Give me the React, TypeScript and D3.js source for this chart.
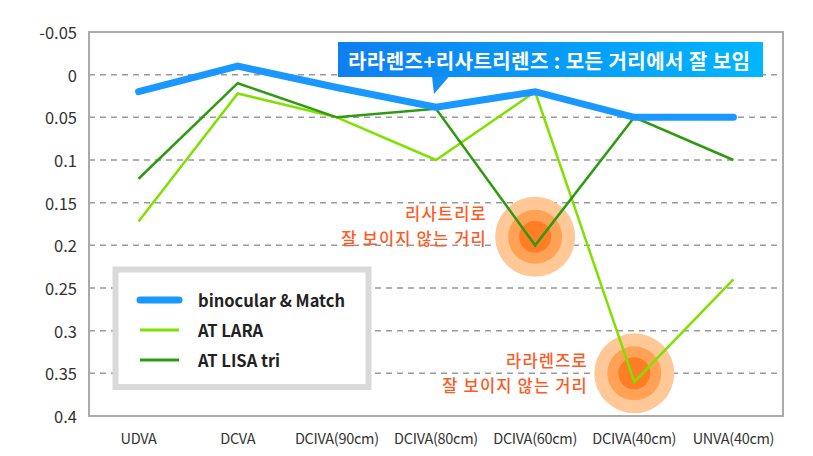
import React from "react";
import * as d3 from "d3";

const categories = ["UDVA", "DCVA", "DCIVA(90cm)", "DCIVA(80cm)", "DCIVA(60cm)", "DCIVA(40cm)", "UNVA(40cm)"];
const binocularMatch = [0.02, -0.01, 0.015, 0.038, 0.02, 0.05, 0.05];
const atLara = [0.172, 0.022, 0.05, 0.1, 0.02, 0.36, 0.24];
const atLisaTri = [0.122, 0.01, 0.05, 0.04, 0.2, 0.05, 0.1];
const yTicks = [-0.05, 0, 0.05, 0.1, 0.15, 0.2, 0.25, 0.3, 0.35, 0.4];
const yTickLabels = ["-0.05", "0", "0.05", "0.1", "0.15", "0.2", "0.25", "0.3", "0.35", "0.4"];
const seriesNames = ["binocular & Match", "AT LARA", "AT LISA tri"];
const calloutText = "라라렌즈+리사트리렌즈 : 모든 거리에서 잘 보임";
const note1 = ["리사트리로", "잘 보이지 않는 거리"];
const note2 = ["라라렌즈로", "잘 보이지 않는 거리"];
const note1Cat = "DCIVA(60cm)";
const note1Val = 0.19;
const note2Cat = "DCIVA(40cm)";
const note2Val = 0.35;

const W = 813;
const H = 456;
const M = { left: 89, right: 30, top: 32, bottom: 40 };
const FONT = "'Noto Sans CJK KR', 'Noto Sans', sans-serif";

export default function App() {
  const x = d3
    .scalePoint<string>()
    .domain(categories)
    .range([M.left, W - M.right])
    .padding(0.5);
  const y = d3.scaleLinear().domain([-0.05, 0.4]).range([M.top, H - M.bottom]);

  const line = d3
    .line<number>()
    .x((_, i) => x(categories[i]) as number)
    .y((d) => y(d));

  const colors = ["#1a98ff", "#80e000", "#2e9a12"];
  const widths = [7, 2.5, 2.5];
  const series = [binocularMatch, atLara, atLisaTri];

  const c1x = x(note1Cat) as number;
  const c1y = y(note1Val);
  const c2x = x(note2Cat) as number;
  const c2y = y(note2Val);

  const circles = (cx: number, cy: number, key: string) => (
    <g key={key}>
      <circle cx={cx} cy={cy} r={40} fill="#ffc896" />
      <circle cx={cx} cy={cy} r={27} fill="#ffa255" />
      <circle cx={cx} cy={cy} r={16} fill="#ff7d25" />
    </g>
  );

  const calloutX = 338;
  const calloutY = 42;
  const calloutW = 425;
  const calloutH = 35;

  const legX = 115.5;
  const legY = 269.5;
  const legRows = [300, 330, 360];

  return (
    <div style={{ position: "fixed", left: 0, top: 0 }}>
      <svg width={W} height={H} style={{ display: "block", background: "#fff" }} fontFamily={FONT}>
        <defs>
          <linearGradient id="cg" x1="0" x2="1" y1="0" y2="0">
            <stop offset="0" stopColor="#0f7ff0" />
            <stop offset="1" stopColor="#00b6ff" />
          </linearGradient>
        </defs>
        {/* grid */}
        {yTicks.slice(1, -1).map((t) => (
          <line
            key={t}
            x1={M.left}
            x2={W - M.right}
            y1={y(t)}
            y2={y(t)}
            stroke="#999"
            strokeWidth={1.5}
            strokeDasharray="6,5"
          />
        ))}
        {/* frame */}
        <rect
          x={M.left}
          y={M.top}
          width={W - M.right - M.left}
          height={H - M.bottom - M.top}
          fill="none"
          stroke="#aaa"
          strokeWidth={2}
        />
        {/* y labels */}
        {yTicks.map((t, i) => (
          <text
            key={t}
            x={77}
            y={y(t)}
            textAnchor="end"
            dominantBaseline="central"
            fontSize={16.5}
            fill="#333"
          >
            {yTickLabels[i]}
          </text>
        ))}
        {/* x labels */}
        {categories.map((c) => (
          <text
            key={c}
            x={x(c) as number}
            y={437}
            textAnchor="middle"
            dominantBaseline="central"
            fontSize={14.5}
            letterSpacing={-0.3}
            fill="#333"
          >
            {c}
          </text>
        ))}
        {circles(c1x, c1y, "c1")}
        {circles(c2x, c2y, "c2")}
        {/* lines */}
        {[1, 2, 0].map((k) => (
          <path
            key={k}
            d={line(series[k]) as string}
            fill="none"
            stroke={colors[k]}
            strokeWidth={widths[k]}
            strokeLinejoin="miter"
            strokeLinecap={k === 0 ? "round" : "butt"}
          />
        ))}
        {/* notes */}
        <g fill="#ff5a1f" fontSize={16.5} fontWeight={500} textAnchor="end" letterSpacing={1.2}>
          <text x={487} y={220}>{note1[0]}</text>
          <text x={487} y={244.5}>{note1[1]}</text>
          <text x={588} y={367}>{note2[0]}</text>
          <text x={588} y={391.5}>{note2[1]}</text>
        </g>
        {/* callout */}
        <rect x={calloutX} y={calloutY} width={calloutW} height={calloutH} fill="url(#cg)" />
        <path d={`M432,${calloutY + calloutH - 0.5} L449,${calloutY + calloutH - 0.5} L434,94 Z`} fill="#1590f5" />
        <text
          x={348}
          y={calloutY + calloutH / 2 + 1}
          dominantBaseline="central"
          fill="#fff"
          fontWeight={700}
          fontSize={20}
          textLength={402}
          lengthAdjust="spacing"
        >
          {calloutText}
        </text>
        {/* legend */}
        <rect x={legX} y={legY} width={253} height={117.5} fill="#fff" stroke="#d9d9d9" strokeWidth={6} />
        {legRows.map((ry, i) => (
          <g key={i}>
            <line
              x1={140}
              x2={179}
              y1={ry}
              y2={ry}
              stroke={colors[i]}
              strokeWidth={widths[i] === 7 ? 7 : 3}
              strokeLinecap={i === 0 ? "round" : "butt"}
            />
            <text x={198} y={ry} dominantBaseline="central" fontSize={16.5} fontWeight={700} fill="#222">
              {seriesNames[i]}
            </text>
          </g>
        ))}
      </svg>
    </div>
  );
}
